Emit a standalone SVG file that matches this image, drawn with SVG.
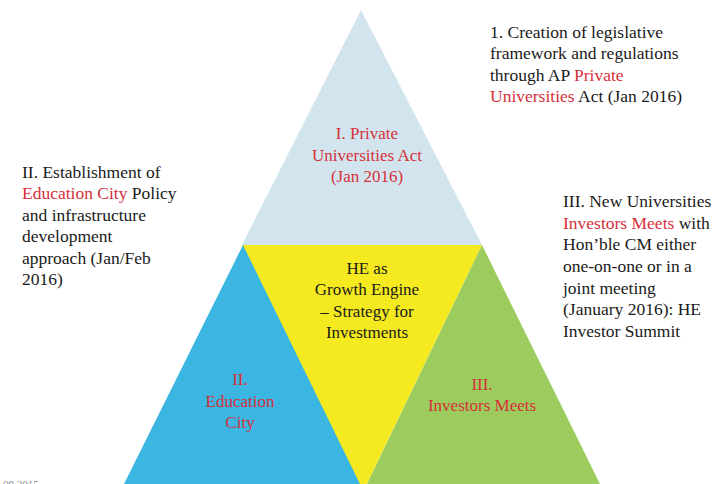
<svg xmlns="http://www.w3.org/2000/svg" width="712" height="484" viewBox="0 0 712 484">
<style>
.side{font-family:'Liberation Serif','Times New Roman','DejaVu Serif',serif;font-size:17.5px;fill:#1a1a1a;}
.tri{font-family:'Liberation Serif','Times New Roman','DejaVu Serif',serif;font-size:17px;text-anchor:middle;}
.red{fill:#d6303a;}
.dark{fill:#1a1a1a;}
</style>
<rect width="712" height="484" fill="#ffffff"/>
<g id="node-top">
<polygon points="361,10 242,245 482,245" fill="#d2e5ee"/>
<text class="tri red" x="367" y="139">I. Private</text>
<text class="tri red" x="367" y="161">Universities Act</text>
<text class="tri red" x="367" y="182">(Jan 2016)</text>
</g>
<g id="node-center">
<polygon points="242,245 482,245 363,492" fill="#f4ea1f"/>
<text class="tri dark" x="367" y="274">HE as</text>
<text class="tri dark" x="367" y="295">Growth Engine</text>
<text class="tri dark" x="367" y="317">– Strategy for</text>
<text class="tri dark" x="367" y="338">Investments</text>
</g>
<g id="node-left">
<polygon points="243,245 124,484 360,484" fill="#3bb5e1"/>
<text class="tri red" x="240" y="385">II.</text>
<text class="tri red" x="240" y="407">Education</text>
<text class="tri red" x="240" y="428">City</text>
</g>
<g id="node-right">
<polygon points="482,245 367,484 600,484" fill="#9ccc5d"/>
<text class="tri red" x="482" y="390">III.</text>
<text class="tri red" x="482" y="411">Investors Meets</text>
</g>
<g id="label-top-right">
<text class="side" x="490" y="38">1. Creation of legislative</text>
<text class="side" x="490" y="59">framework and regulations</text>
<text class="side" x="490" y="81">through AP <tspan class="red">Private</tspan></text>
<text class="side" x="490" y="102"><tspan class="red">Universities</tspan> Act (Jan 2016)</text>
</g>
<g id="label-left">
<text class="side" x="22" y="178">II. Establishment of</text>
<text class="side" x="22" y="199"><tspan class="red">Education City</tspan> Policy</text>
<text class="side" x="22" y="221">and infrastructure</text>
<text class="side" x="22" y="242">development</text>
<text class="side" x="22" y="264">approach (Jan/Feb</text>
<text class="side" x="22" y="285">2016)</text>
</g>
<g id="label-right">
<text class="side" x="563" y="207">III. New Universities</text>
<text class="side" x="563" y="229"><tspan class="red">Investors Meets</tspan> with</text>
<text class="side" x="563" y="250">Hon’ble CM either</text>
<text class="side" x="563" y="272">one-on-one or in a</text>
<text class="side" x="563" y="294">joint meeting</text>
<text class="side" x="563" y="315">(January 2016): HE</text>
<text class="side" x="563" y="337">Investor Summit</text>
</g>
<g id="connectors"></g>
<text x="3" y="488" font-family="'Liberation Serif',serif" font-size="11" fill="#8a8a8a">09.2015</text>
</svg>
